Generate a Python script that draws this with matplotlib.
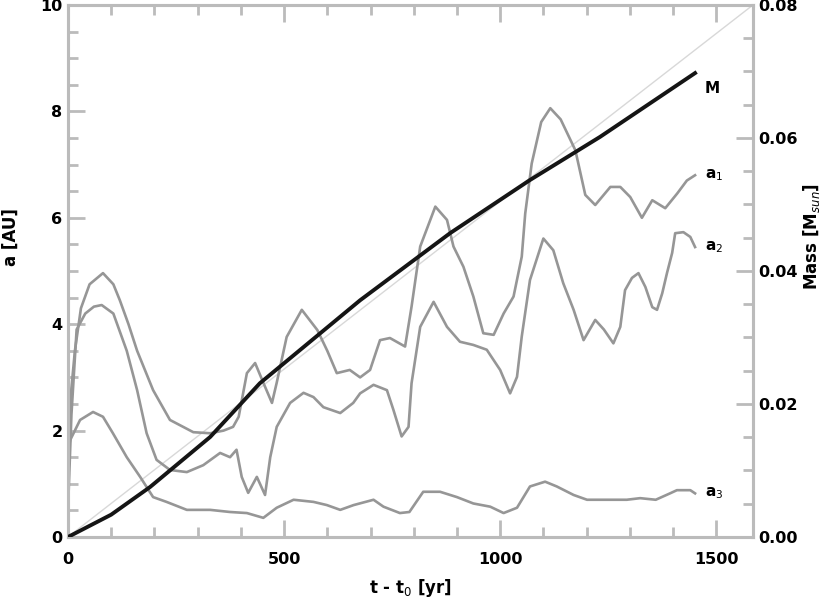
import matplotlib
matplotlib.use("Agg")
import matplotlib.pyplot as plt
from matplotlib.ticker import MultipleLocator

# ---- data ----
t_a1 = [0, 8, 16, 30, 50, 81, 105, 120, 140, 160, 197, 236, 290, 329, 360, 382, 395, 414, 433, 452,
        472, 483, 506, 541, 577, 600, 622, 652, 676, 699, 722, 745, 780, 795, 815, 850, 877, 892,
        915, 938, 961, 985, 1008, 1031, 1050, 1058, 1073, 1095, 1116, 1140, 1174, 1197, 1220,
        1255, 1278, 1301, 1328, 1352, 1382, 1410, 1432, 1451]
a1 = [1.6, 2.8, 3.5, 4.3, 4.75, 4.96, 4.75, 4.45, 4.0, 3.5, 2.76, 2.2, 1.97, 1.95, 2.0, 2.07, 2.26,
      3.08, 3.27, 2.9, 2.52, 2.9, 3.76, 4.27, 3.89, 3.5, 3.08, 3.14, 3.0, 3.14, 3.70, 3.74, 3.58,
      4.33, 5.46, 6.21, 5.96, 5.46, 5.08, 4.52, 3.83, 3.80, 4.20, 4.52, 5.27, 6.08, 7.02, 7.8,
      8.06, 7.85, 7.27, 6.43, 6.24, 6.58, 6.58, 6.39, 6.0, 6.33, 6.18, 6.46, 6.7, 6.8]

t_a2 = [0, 8, 20, 40, 60, 78, 105, 136, 160, 182, 205, 236, 275, 313, 352, 375, 390, 402, 417, 437,
        456, 468, 483, 514, 545, 568, 591, 630, 660, 676, 707, 738, 753, 772, 788, 795, 815, 846,
        877, 907, 938, 969, 1000, 1023, 1039, 1050, 1069, 1100, 1123, 1146, 1170, 1193, 1220,
        1240, 1262, 1278, 1289, 1305, 1320, 1336, 1352, 1363, 1375, 1386, 1398, 1405, 1424,
        1440, 1451]
a2 = [0.5, 2.3, 3.9, 4.2, 4.33, 4.36, 4.2, 3.5, 2.76, 1.95, 1.45, 1.26, 1.22, 1.35, 1.58, 1.5, 1.64,
      1.13, 0.83, 1.13, 0.79, 1.5, 2.07, 2.52, 2.71, 2.63, 2.44, 2.33, 2.52, 2.7, 2.86, 2.76, 2.39,
      1.89, 2.07, 2.89, 3.95, 4.42, 3.95, 3.67, 3.61, 3.52, 3.14, 2.70, 3.01, 3.77, 4.83, 5.61,
      5.39, 4.77, 4.27, 3.70, 4.08, 3.9, 3.64, 3.95, 4.64, 4.87, 4.96, 4.70, 4.32, 4.27, 4.58,
      4.96, 5.34, 5.71, 5.73, 5.64, 5.45]

t_a3 = [0, 5, 28, 58, 81, 104, 136, 167, 197, 228, 275, 329, 375, 414, 452, 483, 522, 568, 599, 630,
        661, 707, 730, 768, 790, 822, 861, 900, 938, 977, 1008, 1039, 1069, 1104, 1131, 1170,
        1201, 1247, 1293, 1324, 1360, 1393, 1409, 1440, 1451]
a3 = [1.6, 1.82, 2.2, 2.35, 2.26, 1.95, 1.5, 1.13, 0.75, 0.66, 0.51, 0.51, 0.47, 0.45, 0.36, 0.55,
      0.70, 0.66, 0.60, 0.51, 0.60, 0.70, 0.57, 0.45, 0.47, 0.85, 0.85, 0.75, 0.63, 0.57, 0.45,
      0.55, 0.95, 1.04, 0.95, 0.79, 0.70, 0.70, 0.70, 0.73, 0.70, 0.82, 0.88, 0.88, 0.82]

t_mass = [0, 100, 190, 329, 444, 676, 884, 1069, 1231, 1451]
mass = [0.0, 0.00336, 0.00752, 0.01504, 0.02312, 0.0356, 0.04568, 0.05368, 0.06016, 0.06976]

t_ref = [0, 1585]
a_ref = [0, 10]

x_ticks = [0, 500, 1000, 1500]
y_ticks = [0, 2, 4, 6, 8, 10]
m_ticks = [0.00, 0.02, 0.04, 0.06, 0.08]
labels = ["a$_1$", "a$_2$", "a$_3$"]

# ---- plot ----
spine_c = "#bbbbbb"
curve_c = "#969696"
fig = plt.figure(figsize=(8.3, 6.0), dpi=100)
ax = fig.add_axes([0.0819, 0.105, 0.8253, 0.8867])
ax2 = ax.twinx()

ax.plot(t_ref, a_ref, color="#d8d8d8", lw=1.0, zorder=1)
for tt, aa, lab in zip([t_a1, t_a2, t_a3], [a1, a2, a3], labels):
    ax.plot(tt, aa, color=curve_c, lw=1.9, zorder=2)
    ax.annotate(lab, xy=(tt[-1], aa[-1]), xytext=(7, 0), textcoords="offset points",
                va="center", ha="left", fontsize=11, fontweight="bold", color="black")
ax2.plot(t_mass, mass, color="#151515", lw=2.8, zorder=3)
ax2.annotate("M", xy=(t_mass[-1], mass[-1]), xytext=(7, -11), textcoords="offset points",
             va="center", ha="left", fontsize=11, fontweight="bold", color="black")

ax.set_xlim(0, 1585)
ax.set_ylim(0, 10)
ax2.set_ylim(0, 0.08)

ax.set_xticks(x_ticks)
ax.set_xticklabels([str(v) for v in x_ticks])
ax.set_yticks(y_ticks)
ax.set_yticklabels([str(v) for v in y_ticks])
ax2.set_yticks(m_ticks)
ax2.set_yticklabels([f"{v:.2f}" for v in m_ticks])
ax.xaxis.set_minor_locator(MultipleLocator(100))
ax.yaxis.set_minor_locator(MultipleLocator(0.5))
ax2.yaxis.set_minor_locator(MultipleLocator(0.005))

for a in (ax, ax2):
    for s in a.spines.values():
        s.set_color(spine_c)
        s.set_linewidth(2.2)
ax.tick_params(axis="both", which="both", direction="in", color=spine_c, top=True,
               labelsize=11.5, labelcolor="black", width=2)
ax.tick_params(which="major", length=12)
ax.tick_params(which="minor", length=7)
ax.tick_params(axis="x", which="major", pad=11)
ax.tick_params(axis="y", which="major", pad=4)
ax2.tick_params(axis="y", which="both", direction="in", color=spine_c, labelsize=11.5,
                labelcolor="black", width=2)
ax2.tick_params(which="major", length=12, pad=4)
ax2.tick_params(which="minor", length=7)
for lab in ax.get_xticklabels() + ax.get_yticklabels() + ax2.get_yticklabels():
    lab.set_fontweight("bold")

ax.set_xlabel("t - t$_0$ [yr]", fontsize=12, fontweight="bold")
ax.set_ylabel("a [AU]", fontsize=12, fontweight="bold")
ax2.set_ylabel("Mass [M$_{sun}$]", fontsize=12, fontweight="bold")
ax.xaxis.set_label_coords(0.5, -0.075)
ax.yaxis.set_label_coords(-0.07, 0.564)
ax2.yaxis.set_label_coords(1.07, 0.564)

fig.savefig("out.png", dpi=100)
